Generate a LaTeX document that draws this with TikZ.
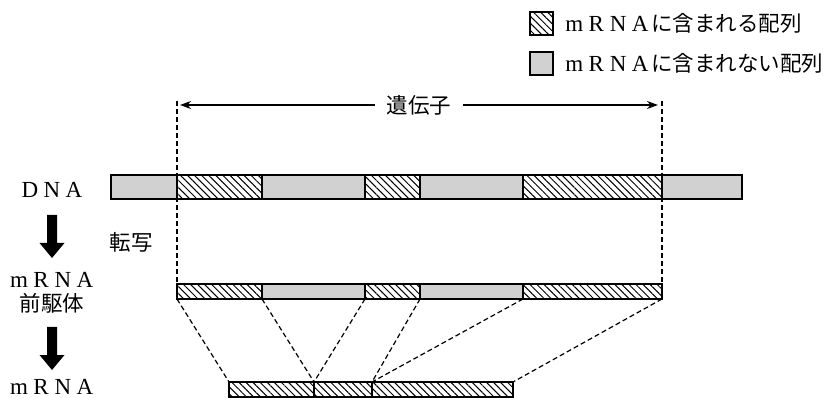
\documentclass[tikz,border=0pt]{standalone}
\usepackage{fontspec}
\setmainfont{Liberation Serif}
\newfontfamily\jp{Noto Sans CJK JP}
\usetikzlibrary{patterns.meta,arrows.meta}

% full-width latin letters
\newcommand{\fwc}[1]{\makebox[22pt]{#1}}
\newcommand{\mRNAtxt}{\fwc{m}\fwc{R}\fwc{N}\fwc{A}}
\newcommand{\latin}{\fontsize{23}{26}\rmfamily}
\newcommand{\kanji}{\jp\fontsize{21.5}{24}\selectfont}

\tikzset{
  exon/.style={draw=black, line width=1.3pt,
    pattern={Lines[angle=-45,distance=5pt,line width=1pt]}},
  intron/.style={draw=black, line width=1.3pt, fill=black!18},
  guide/.style={line width=1.2pt, dash pattern=on 5pt off 3pt},
  genearrow/.style={line width=1.8pt, -{Stealth[length=11pt,width=8pt]}},
  lbl/.style={font=\latin, inner sep=0pt},
  jtxt/.style={font=\kanji, inner sep=0pt},
}

\begin{document}
\begin{tikzpicture}[x=1pt,y=-1pt]
\useasboundingbox (0,0) rectangle (836,398);

% ---- legend ----
\path[exon]   (530,12) rectangle (553,35);
\node[jtxt, anchor=west] (legA) at (563,23.5) {{\latin\mRNAtxt}に含まれる配列};
\path[intron] (530,52) rectangle (553,75);
\node[jtxt, anchor=west] (legB) at (563,63.5) {{\latin\mRNAtxt}に含まれない配列};

% ---- gene extent ----
\coordinate (gL) at (180,105);
\coordinate (gR) at (658,105);
\node[jtxt, inner xsep=12pt] (gene) at (419,105) {遺伝子};
\draw[genearrow] (gene) -- (gL);
\draw[genearrow] (gene) -- (gR);

\coordinate (vLt) at (177,101);
\coordinate (vRt) at (662,101);
\coordinate (pTL) at (177,284);
\coordinate (pTR) at (662,284);
\draw[guide] (vLt) -- (pTL);
\draw[guide] (vRt) -- (pTR);

% ---- DNA ----
\path[intron] (111,175) rectangle (177,199);
\path[exon]   (177,175) rectangle (262,199);
\path[intron] (262,175) rectangle (365,199);
\path[exon]   (365,175) rectangle (420,199);
\path[intron] (420,175) rectangle (523,199);
\path[exon]   (523,175) rectangle (662,199);
\path[intron] (662,175) rectangle (742,199);

% ---- mRNA precursor ----
\path[exon]   (177,284) rectangle (262,299);
\path[intron] (262,284) rectangle (365,299);
\path[exon]   (365,284) rectangle (420,299);
\path[intron] (420,284) rectangle (523,299);
\path[exon]   (523,284) rectangle (662,299);

% ---- mature mRNA ----
\path[exon] (229,382) rectangle (314,397);
\path[exon] (314,382) rectangle (372,397);
\path[exon] (372,382) rectangle (513,397);

% ---- splicing guides ----
\coordinate (p0) at (177,299);
\coordinate (p1) at (262,299);
\coordinate (p2) at (365,299);
\coordinate (p3) at (420,299);
\coordinate (p4) at (523,299);
\coordinate (p5) at (662,299);
\coordinate (m0) at (229,382);
\coordinate (m1) at (314,382);
\coordinate (m2) at (372,382);
\coordinate (m3) at (513,382);
\draw[guide] (p0) -- (m0);
\draw[guide] (p1) -- (m1);
\draw[guide] (p2) -- (m1);
\draw[guide] (p3) -- (m2);
\draw[guide] (p4) -- (m2);
\draw[guide] (p5) -- (m3);

% ---- left column ----
\node[lbl, anchor=base] (dna) at (52,198) {\fwc{D}\fwc{N}\fwc{A}};
\node[lbl, anchor=base] (pre1) at (52,288) {\mRNAtxt};
\node[jtxt, anchor=base] (pre2) at (52,312) {前駆体};
\node[lbl, anchor=base] (mat) at (52,394) {\mRNAtxt};
\node[jtxt] (tr) at (131,242) {転写};

\coordinate (a1s) at (52,215);
\coordinate (a1e) at (52,258);
\coordinate (a2s) at (52,327);
\coordinate (a2e) at (52,370);
\fill (a1s) ++(-5,0) -- ++(10,0) -- ++(0,28) -- ++(7.5,0) -- (a1e) -- ++(-12.5,-15) -- ++(7.5,0) -- cycle;
\fill (a2s) ++(-5,0) -- ++(10,0) -- ++(0,28) -- ++(7.5,0) -- (a2e) -- ++(-12.5,-15) -- ++(7.5,0) -- cycle;
\end{tikzpicture}
\end{document}
